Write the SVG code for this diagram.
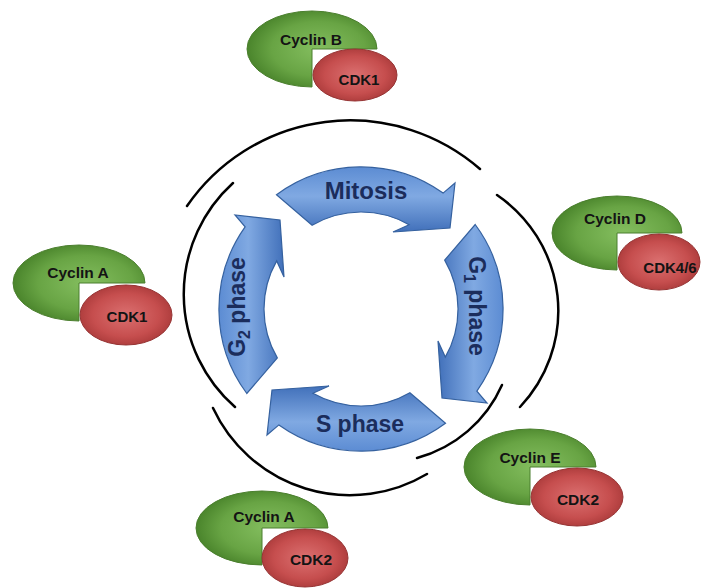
<svg xmlns="http://www.w3.org/2000/svg" width="701" height="588" viewBox="0 0 701 588">
<style>
.arc{fill:none;stroke:#000;stroke-width:2.5;stroke-linecap:round}
.arrow{fill:url(#ag);stroke:#35619F;stroke-width:1.2}
.atx{font-family:"Liberation Sans",Arial,sans-serif;font-weight:bold;fill:#1B2D5C;text-anchor:middle}
.grn{fill:url(#gg);stroke:#4B7F2E;stroke-width:1}
.red{fill:url(#rg);stroke:#963434;stroke-width:1}
.ntx{font-family:"Liberation Sans",Arial,sans-serif;font-weight:bold;fill:#141414;text-anchor:middle}
</style>
<defs>
<linearGradient id="ag" x1="0" y1="0" x2="0" y2="1">
<stop offset="0" stop-color="#5C8CD3"/>
<stop offset="0.45" stop-color="#80A9E2"/>
<stop offset="1" stop-color="#4170BA"/>
</linearGradient>
<radialGradient id="gg" cx="0.55" cy="0.5" r="0.6">
<stop offset="0" stop-color="#84BE5F"/>
<stop offset="0.6" stop-color="#68A444"/>
<stop offset="1" stop-color="#427C25"/>
</radialGradient>
<radialGradient id="rg" cx="0.5" cy="0.5" r="0.6">
<stop offset="0" stop-color="#DB7070"/>
<stop offset="0.6" stop-color="#C64E4E"/>
<stop offset="1" stop-color="#A03333"/>
</radialGradient>
<path id="arr" d="M276.5,194.8 A142,142 0 0 1 443.1,193.1 L455,183 L450,228 L393,232 L409.1,224.7 A97,97 0 0 0 312.1,225.3 Z"/>
</defs>

<g id="connectors">
<path class="arc" d="M187,206 A198,198 0 0 1 480,169"/>
<path class="arc" d="M233,183 A150,150 0 0 0 235,407"/>
<path class="arc" d="M213,408 A151,151 0 0 0 427,474"/>
<path class="arc" d="M497,195 A140,140 0 0 1 520,407"/>
<path class="arc" d="M502,385 A130,130 0 0 1 417,458"/>
</g>

<g id="cycle">
<g id="mitosis">
<use href="#arr" class="arrow"/>
<text class="atx" x="366" y="199" font-size="24">Mitosis</text>
</g>
<g id="g1phase">
<use href="#arr" class="arrow" transform="rotate(90 361 309)"/>
<text class="atx" font-size="23" transform="translate(469,306) rotate(90)">G<tspan font-size="16" dy="5">1</tspan><tspan dy="-5"> phase</tspan></text>
</g>
<g id="sphase">
<use href="#arr" class="arrow" transform="rotate(180 361 309)"/>
<text class="atx" x="360" y="432" font-size="23">S phase</text>
</g>
<g id="g2phase">
<use href="#arr" class="arrow" transform="rotate(270 361 309)"/>
<text class="atx" font-size="23" transform="translate(245,307) rotate(-90)">G<tspan font-size="16" dy="5">2</tspan><tspan dy="-5"> phase</tspan></text>
</g>
</g>

<g id="cyclinB-cdk1">
<path class="grn" d="M377,49 L312,49 L312,87 A65,38 0 1 1 377,49 Z"/>
<ellipse class="red" cx="355" cy="75" rx="42" ry="26"/>
<text class="ntx" x="311" y="45" font-size="15.5">Cyclin B</text>
<text class="ntx" x="359" y="85" font-size="15">CDK1</text>
</g>

<g id="cyclinD-cdk46">
<path class="grn" d="M682,233 L617,233 L617,270 A65,37 0 1 1 682,233 Z"/>
<ellipse class="red" cx="659" cy="262" rx="41" ry="28"/>
<text class="ntx" x="615" y="224" font-size="15.5">Cyclin D</text>
<text class="ntx" x="670" y="273" font-size="15">CDK4/6</text>
</g>

<g id="cyclinA-cdk1">
<path class="grn" d="M145,283 L79,283 L79,321 A66,38 0 1 1 145,283 Z"/>
<ellipse class="red" cx="126" cy="315" rx="46" ry="30"/>
<text class="ntx" x="78" y="278" font-size="15.5">Cyclin A</text>
<text class="ntx" x="127" y="322" font-size="15">CDK1</text>
</g>

<g id="cyclinE-cdk2">
<path class="grn" d="M596,467 L530,467 L530,505 A66,38 0 1 1 596,467 Z"/>
<ellipse class="red" cx="577" cy="497" rx="46" ry="29"/>
<text class="ntx" x="530" y="463" font-size="15.5">Cyclin E</text>
<text class="ntx" x="578" y="505" font-size="15.5">CDK2</text>
</g>

<g id="cyclinA-cdk2">
<path class="grn" d="M328,528 L262,528 L262,565 A66,37 0 1 1 328,528 Z"/>
<ellipse class="red" cx="305" cy="558" rx="43" ry="29"/>
<text class="ntx" x="264" y="522" font-size="15.5">Cyclin A</text>
<text class="ntx" x="311" y="565" font-size="15.5">CDK2</text>
</g>
</svg>
